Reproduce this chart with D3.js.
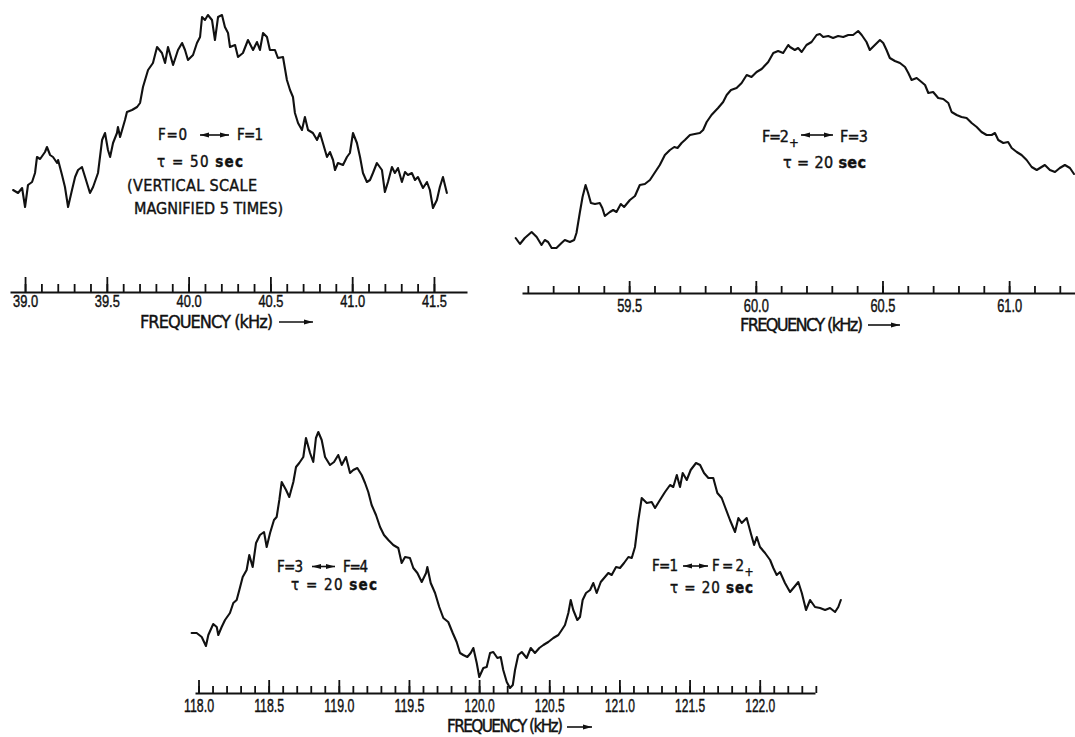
<!DOCTYPE html>
<html lang="en">
  <head>
    <meta charset="UTF-8" />
    <title>Hyperfine resonance traces</title>
    <script src="https://d3js.org/d3.v7.min.js"></script>
    <style>
      body { margin: 0; background: #fff; }
      svg {
        display: block;
        font-family: "Liberation Sans Narrow", "DejaVu Sans Condensed", "Arial Narrow", sans-serif;
      }
      .trace { fill: none; stroke: #111; stroke-width: 2.1; stroke-linejoin: round; stroke-linecap: round; }
      .axis path, .axis line { stroke: #111; stroke-width: 1.8; }
      .axis text { fill: #111; stroke: #111; stroke-width: 0.45; }
      .note { fill: #111; }
      text.note { stroke: #111; stroke-width: 0.4; }
    </style>
  </head>
  <body>
    <script>
      // ---- F=0 <-> F=1 trace (kHz, relative signal)
      const freqA = [38.927,38.957,38.982,39.000,39.018,39.043,39.061,39.073,39.092,39.122,
        39.134,39.153,39.171,39.196,39.202,39.226,39.244,39.263,39.287,39.306,
        39.324,39.348,39.367,39.397,39.416,39.446,39.471,39.489,39.507,39.520,
        39.538,39.562,39.568,39.581,39.611,39.623,39.654,39.685,39.703,39.721,
        39.752,39.782,39.807,39.837,39.856,39.874,39.905,39.935,39.960,39.978,
        39.996,40.027,40.051,40.070,40.082,40.100,40.118,40.143,40.161,40.180,
        40.204,40.222,40.241,40.253,40.284,40.302,40.332,40.363,40.394,40.418,
        40.436,40.455,40.479,40.497,40.528,40.546,40.577,40.601,40.620,40.638,
        40.650,40.669,40.693,40.711,40.730,40.760,40.785,40.803,40.821,40.846,
        40.864,40.883,40.895,40.913,40.944,40.968,40.986,41.005,41.029,41.048,
        41.066,41.090,41.109,41.127,41.151,41.182,41.200,41.219,41.243,41.261,
        41.280,41.304,41.323,41.341,41.365,41.384,41.402,41.433,41.457,41.475,
        41.494,41.518,41.536,41.555,41.579];
      const sigA = [25,22,27,8,30,33,42,58,56,63,
        68,60,58,52,55,40,28,8,25,38,
        45,48,38,22,28,42,75,82,65,58,
        72,82,88,78,95,103,105,108,112,128,
        145,152,168,162,152,168,150,165,172,165,
        155,160,172,178,198,195,200,195,175,198,
        200,188,182,168,170,158,162,175,165,173,
        165,182,178,165,165,157,158,135,125,118,
        102,92,85,98,85,82,75,82,72,58,
        63,55,45,52,50,58,62,82,72,58,
        42,33,35,42,52,45,23,33,48,42,
        47,33,43,40,42,35,38,27,33,25,
        7,15,28,38,22];

      // ---- F=2+ <-> F=3 trace
      const freqB = [59.052,59.069,59.088,59.115,59.135,59.154,59.167,59.180,59.194,59.213,
        59.233,59.246,59.266,59.283,59.292,59.305,59.316,59.328,59.338,59.349,
        59.365,59.384,59.394,59.404,59.424,59.437,59.450,59.467,59.480,59.503,
        59.523,59.542,59.562,59.582,59.595,59.621,59.641,59.661,59.678,59.691,
        59.707,59.720,59.740,59.759,59.779,59.792,59.806,59.825,59.851,59.871,
        59.885,59.902,59.924,59.944,59.964,59.983,60.003,60.023,60.049,60.069,
        60.088,60.108,60.128,
        60.135,60.154,60.167,60.181,60.200,60.220,60.240,60.253,60.266,60.286,
        60.305,60.325,60.345,60.365,60.384,60.404,60.418,60.437,60.450,60.470,
        60.490,60.503,60.516,60.529,60.549,60.569,60.589,60.602,60.615,60.635,
        60.654,60.668,60.681,60.700,60.720,60.740,60.760,60.773,60.793,60.812,
        60.832,60.852,60.872,60.891,60.911,60.931,60.944,60.957,60.977,60.996,
        61.010,61.030,61.049,61.069,61.089,61.109,61.128,61.141,61.161,61.181,
        61.200,61.220,61.240,61.256];
      const sigB = [17,11,17,23,18,10,15,13,7,7,
        12,15,13,15,22,42,58,70,62,52,
        51,52,47,39,43,45,43,51,48,55,
        59,70,71,75,80,90,100,105,108,107,
        112,115,120,121,122,125,133,140,147,153,
        160,165,167,172,180,178,183,186,193,202,
        204,202,210,
        208,205,207,203,210,213,220,221,218,219,
        217,219,218,220,220,224,220,213,205,210,
        215,212,205,197,194,192,188,182,175,177,
        173,170,162,163,157,156,152,143,140,138,
        137,132,128,123,120,120,122,115,112,113,
        107,103,100,95,88,85,88,90,85,83,
        87,90,87,81];

      // ---- F=3 <-> F=4 and F=1 <-> F=2+ trace (one sweep)
      const freqC = [117.951,117.987,118.023,118.053,118.070,118.105,118.130,118.141,118.165,118.189,
        118.224,118.248,118.272,118.291,118.315,118.343,118.362,118.386,118.410,118.438,
        118.467,118.486,118.510,118.538,118.557,118.576,118.593,118.624,118.647,118.676,
        118.695,118.718,118.747,118.766,118.795,118.818,118.837,118.854,118.878,118.902,
        118.937,118.966,118.996,119.021,119.051,119.080,119.103,119.132,119.163,119.187,
        119.210,119.234,119.265,119.294,119.322,119.353,119.388,119.424,119.448,119.472,
        119.507,119.531,119.560,119.591,119.622,119.631,119.655,119.686,119.716,119.745,
        119.780,119.812,119.840,119.864,119.887,119.916,119.940,119.959,119.983,120.001,
        120.030,120.054,120.078,120.101,120.130,120.154,
        120.172,120.197,120.220,120.240,120.256,120.279,120.304,120.339,120.368,120.398,
        120.429,120.458,120.493,120.529,120.565,120.589,120.612,120.636,120.653,120.671,
        120.700,120.719,120.738,120.762,120.791,120.814,120.838,120.867,120.897,120.921,
        120.945,120.976,121.004,121.033,121.064,121.088,121.111,121.135,121.159,121.195,
        121.230,121.254,121.289,121.325,121.361,121.384,121.409,121.432,121.451,121.480,
        121.508,121.546,121.575,121.603,121.634,121.669,121.698,121.729,121.753,121.788,
        121.824,121.848,121.872,121.907,121.936,121.960,121.979,122.002,122.038,122.074,
        122.097,122.121,122.145,122.180,122.216,122.240,122.275,122.300,122.330,122.359,
        122.394,122.430,122.466,122.501,122.537,122.560,122.578];
      const sigC = [62,62,58,49,60,71,68,60,68,75,
        82,92,95,105,118,125,140,128,152,160,
        163,148,162,175,178,195,213,205,198,213,
        228,232,238,257,242,233,257,263,255,238,
        230,233,240,230,238,222,225,227,220,212,
        203,190,180,168,160,155,150,147,132,138,
        137,127,122,113,122,128,112,102,88,77,
        73,62,53,42,40,38,42,47,32,18,
        27,28,42,43,37,38,
        25,13,7,10,25,40,43,37,47,42,
        47,50,53,57,60,65,70,82,95,85,
        75,78,95,102,105,112,102,113,118,122,
        120,128,127,132,138,137,148,175,197,192,
        193,187,195,203,210,208,220,208,222,215,
        225,232,230,222,217,217,202,197,188,175,
        163,177,172,177,162,150,158,148,142,135,
        127,120,123,112,103,107,113,102,85,95,
        88,87,85,87,83,88,95];

      // tick labels (kHz)
      const ticksA = [39.0, 39.5, 40.0, 40.5, 41.0, 41.5];
      const ticksB = [59.5, 60.0, 60.5, 61.0];
      const ticksC = [118.0, 118.5, 119.0, 119.5, 120.0, 120.5, 121.0, 121.5, 122.0];
      const minorA = d3.range(390, 416).map(v => v / 10);
      const minorB = d3.range(591, 613).map(v => v / 10);
      const minorC = d3.range(1180, 1225).map(v => v / 10);

      const svg = d3.select("body").append("svg")
        .attr("width", 1075).attr("height", 737);

      // layout of each frame
      const panels = [
        { freq: freqA, sig: sigA, xDom: [38.908, 41.702], xRng: [10, 467],
          yDom: [0, 200], yRng: [215, 15], axisY: 292, major: ticksA, minor: minorA,
          bigTick: 15, smallTick: 8, labelY: 15, labelW: 25, labelSize: 17 },
        { freq: freqB, sig: sigB, xDom: [59.077, 61.26], xRng: [522, 1075],
          yDom: [0, 250], yRng: [255, 5], axisY: 293, major: ticksB, minor: minorB,
          bigTick: 12, smallTick: 7, labelY: 18.5, labelW: 25, labelSize: 19 },
        { freq: freqC, sig: sigC, xDom: [117.975, 122.394], xRng: [195, 815],
          yDom: [0, 280], yRng: [695, 415], axisY: 693, major: ticksC, minor: minorC,
          bigTick: 13, smallTick: 7, labelY: 18.5, labelW: 30, labelSize: 18 }
      ];

      panels.forEach(p => {
        const x = d3.scaleLinear().domain(p.xDom).range(p.xRng);
        const y = d3.scaleLinear().domain(p.yDom).range(p.yRng);
        const pts = p.freq.map((f, i) => [f, p.sig[i]]);

        svg.append("path")
          .datum(pts)
          .attr("class", "trace")
          .attr("d", d3.line().x(d => x(d[0])).y(d => y(d[1])));

        // minor ticks + base line
        svg.append("g")
          .attr("class", "axis")
          .attr("transform", `translate(0,${p.axisY})`)
          .call(d3.axisBottom(x).tickValues(p.minor).tickSizeInner(-p.smallTick)
            .tickSizeOuter(0).tickFormat(""));

        // major ticks with labels
        const major = svg.append("g")
          .attr("class", "axis")
          .attr("transform", `translate(0,${p.axisY})`)
          .call(d3.axisBottom(x).tickValues(p.major).tickSizeInner(-p.bigTick)
            .tickSizeOuter(0).tickFormat(d3.format(".1f")));
        major.select(".domain").remove();
        major.selectAll("text")
          .attr("y", p.labelY).attr("dy", null)
          .style("font-size", p.labelSize + "px")
          .attr("textLength", p.labelW)
          .attr("lengthAdjust", "spacingAndGlyphs");
      });

      // text helpers
      function fitText(x0, x1, yb, size, parts, adjust) {
        const t = svg.append("text")
          .attr("class", "note")
          .attr("x", x0).attr("y", yb)
          .style("font-size", size + "px")
          .attr("textLength", x1 - x0)
          .attr("lengthAdjust", adjust || "spacing");
        parts.forEach(pt => {
          const s = t.append("tspan").text(pt.t);
          if (pt.bold) s.style("font-weight", "bold");
        });
        return t;
      }

      // small "+" written below the line, after F=2
      function plusSub(xm, yb, size) {
        svg.append("text")
          .attr("class", "note")
          .attr("x", xm).attr("y", yb)
          .attr("text-anchor", "middle")
          .style("font-size", size + "px")
          .text("+");
      }

      function arrow(x0, x1, yy, both) {
        const g = svg.append("g").attr("class", "note");
        g.append("line")
          .attr("x1", x0).attr("x2", x1).attr("y1", yy).attr("y2", yy)
          .attr("stroke", "#111").attr("stroke-width", 1.6);
        g.append("path")
          .attr("d", `M${x1},${yy} L${x1 - 9},${yy - 2.6} L${x1 - 9},${yy + 2.6} Z`);
        if (both) {
          g.append("path")
            .attr("d", `M${x0},${yy} L${x0 + 9},${yy - 2.6} L${x0 + 9},${yy + 2.6} Z`);
        }
      }

      // axis titles
      fitText(140, 273, 328, 18, [{ t: "FREQUENCY (kHz)" }]);
      arrow(279, 313, 322, false);
      fitText(740, 863, 331, 18, [{ t: "FREQUENCY (kHz)" }]);
      arrow(868, 900, 325, false);
      fitText(447, 563, 732, 17, [{ t: "FREQUENCY (kHz)" }]);
      arrow(567, 592, 727, false);

      // F=0 <-> F=1
      fitText(158, 187, 140, 15, [{ t: "F = 0" }]);
      arrow(200, 229, 135, true);
      fitText(237, 263, 140, 15, [{ t: "F = 1" }]);
      fitText(157, 243, 167, 15, [{ t: "\u03c4 = 50 " }, { t: "sec", bold: true }]);
      fitText(127, 257, 191, 16, [{ t: "(VERTICAL SCALE" }]);
      fitText(134, 283, 214, 16, [{ t: "MAGNIFIED 5 TIMES)" }]);

      // F=2+ <-> F=3
      fitText(762, 789, 142, 16, [{ t: "F = 2" }]);
      plusSub(794, 147, 13);
      arrow(801, 833, 135, true);
      fitText(840, 868, 142, 16, [{ t: "F = 3" }]);
      fitText(783, 866, 168, 16, [{ t: "\u03c4  = 20 " }, { t: "sec", bold: true }]);

      // F=3 <-> F=4
      fitText(277, 303, 572, 15, [{ t: "F = 3" }]);
      arrow(312, 335, 566.5, true);
      fitText(343, 368, 572, 15, [{ t: "F = 4" }]);
      fitText(291, 377, 590, 15, [{ t: "\u03c4 = 20 " }, { t: "sec", bold: true }]);

      // F=1 <-> F=2+
      fitText(652, 678, 571, 15, [{ t: "F = 1" }]);
      arrow(683, 708, 566, true);
      fitText(712, 744, 571, 15, [{ t: "F = 2" }]);
      plusSub(749, 576, 12);
      fitText(670, 753, 593, 15, [{ t: "\u03c4 = 20 " }, { t: "sec", bold: true }]);
    </script>
  </body>
</html>
